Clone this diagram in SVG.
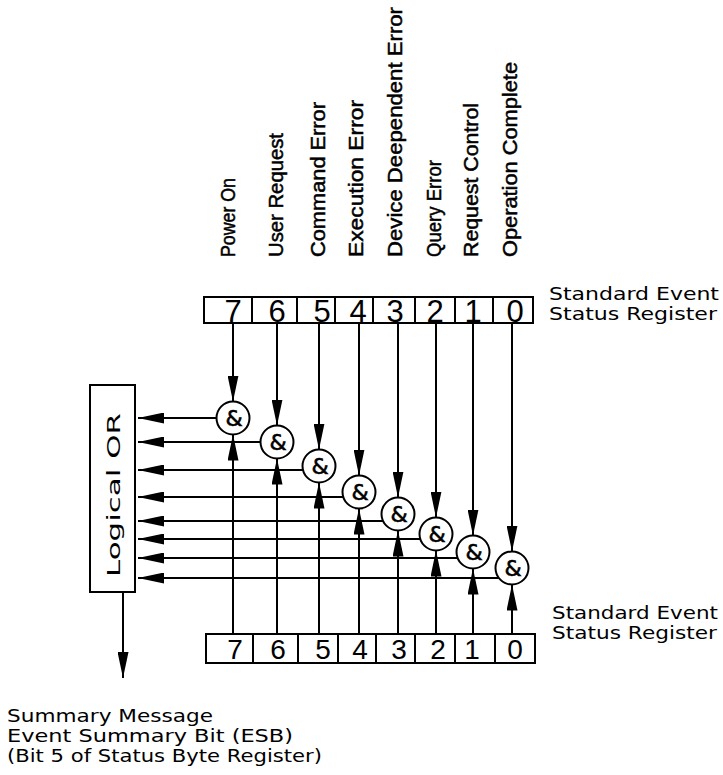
<svg xmlns="http://www.w3.org/2000/svg" width="723" height="775" viewBox="0 0 723 775">
<style>
  .ln{stroke:#000;stroke-width:2;fill:none}
  .bx{stroke:#000;stroke-width:2;fill:#fff}
  .g{stroke:#000;stroke-width:2;fill:#fff}
  .t{font-family:"DejaVu Sans","Liberation Sans",sans-serif;font-size:18px;fill:#000}
  .v{font-family:"Liberation Sans","DejaVu Sans",sans-serif;font-size:20px;fill:#000;stroke:#000;stroke-width:0.5}
  .d{font-family:"Liberation Sans","DejaVu Sans",sans-serif;fill:#000;text-anchor:middle}
  .amp{font-family:"DejaVu Sans","Liberation Sans",sans-serif;font-size:22px;fill:#000;text-anchor:middle;stroke:#000;stroke-width:0.6}
</style>
<defs>
  <marker id="ah" viewBox="0 0 26 11" refX="26" refY="5.5" markerWidth="26" markerHeight="11" markerUnits="userSpaceOnUse" orient="auto">
    <path d="M0,0 L26,5.5 L0,11 z" fill="#000"/>
  </marker>
</defs>

<g id="bit-labels">
  <text class="v" transform="translate(235,257) rotate(-90)" textLength="79" lengthAdjust="spacingAndGlyphs">Power On</text>
  <text class="v" transform="translate(283,257) rotate(-90)" textLength="124" lengthAdjust="spacingAndGlyphs">User Request</text>
  <text class="v" transform="translate(325,257) rotate(-90)" textLength="155" lengthAdjust="spacingAndGlyphs">Command Error</text>
  <text class="v" transform="translate(363,257) rotate(-90)" textLength="157" lengthAdjust="spacingAndGlyphs">Execution Error</text>
  <text class="v" transform="translate(402,257) rotate(-90)" textLength="250" lengthAdjust="spacingAndGlyphs">Device Deependent Error</text>
  <text class="v" transform="translate(441,257) rotate(-90)" textLength="97" lengthAdjust="spacingAndGlyphs">Query Error</text>
  <text class="v" transform="translate(478,257) rotate(-90)" textLength="154" lengthAdjust="spacingAndGlyphs">Request Control</text>
  <text class="v" transform="translate(517,257) rotate(-90)" textLength="195" lengthAdjust="spacingAndGlyphs">Operation Complete</text>
</g>

<g id="top-register">
  <rect class="bx" x="204" y="297" width="329" height="26"/>
  <path class="ln" d="M252,297V323M297,297V323M335,297V323M373,297V323M415,297V323M455,297V323M493,297V323"/>
  <g class="d" font-size="31">
    <text x="233" y="322">7</text><text x="277" y="322">6</text><text x="322" y="322">5</text><text x="358" y="322">4</text>
    <text x="395" y="322">3</text><text x="435" y="322">2</text><text x="473" y="322">1</text><text x="515" y="322">0</text>
  </g>
  <text class="t" font-size="17" x="549" y="300" textLength="170" lengthAdjust="spacingAndGlyphs">Standard Event</text>
  <text class="t" font-size="17" x="549" y="320" textLength="168" lengthAdjust="spacingAndGlyphs">Status Register</text>
</g>

<g id="bottom-register">
  <rect class="bx" x="206" y="634" width="329" height="29"/>
  <path class="ln" d="M253,634V663M298,634V663M338,634V663M376,634V663M415,634V663M455,634V663M495,634V663"/>
  <g class="d" font-size="28">
    <text x="235" y="659">7</text><text x="278" y="659">6</text><text x="323" y="659">5</text><text x="360" y="659">4</text>
    <text x="399" y="659">3</text><text x="438" y="659">2</text><text x="472" y="659">1</text><text x="515" y="659">0</text>
  </g>
  <text class="t" font-size="17" x="552" y="619" textLength="166" lengthAdjust="spacingAndGlyphs">Standard Event</text>
  <text class="t" font-size="17" x="552" y="639" textLength="165" lengthAdjust="spacingAndGlyphs">Status Register</text>
</g>

<g id="connectors">
  <path class="ln" marker-end="url(#ah)" d="M233,323V401.5"/>
  <path class="ln" marker-end="url(#ah)" d="M277,323V425.5"/>
  <path class="ln" marker-end="url(#ah)" d="M319,323V449.5"/>
  <path class="ln" marker-end="url(#ah)" d="M359,323V475.5"/>
  <path class="ln" marker-end="url(#ah)" d="M398,323V497.5"/>
  <path class="ln" marker-end="url(#ah)" d="M436,323V517.5"/>
  <path class="ln" marker-end="url(#ah)" d="M473,323V535.5"/>
  <path class="ln" marker-end="url(#ah)" d="M512,323V551.5"/>
  <path class="ln" marker-end="url(#ah)" d="M233,634V434.5"/>
  <path class="ln" marker-end="url(#ah)" d="M277,634V458.5"/>
  <path class="ln" marker-end="url(#ah)" d="M319,634V482.5"/>
  <path class="ln" marker-end="url(#ah)" d="M359,634V508.5"/>
  <path class="ln" marker-end="url(#ah)" d="M398,634V530.5"/>
  <path class="ln" marker-end="url(#ah)" d="M436,634V550.5"/>
  <path class="ln" marker-end="url(#ah)" d="M473,634V568.5"/>
  <path class="ln" marker-end="url(#ah)" d="M512,634V584.5"/>
  <path class="ln" marker-end="url(#ah)" d="M216.5,418H138"/>
  <path class="ln" marker-end="url(#ah)" d="M260.5,442H138"/>
  <path class="ln" marker-end="url(#ah)" d="M303,470H138"/>
  <path class="ln" marker-end="url(#ah)" d="M343.3,497H138"/>
  <path class="ln" marker-end="url(#ah)" d="M383.1,521H138"/>
  <path class="ln" marker-end="url(#ah)" d="M420.3,539H138"/>
  <path class="ln" marker-end="url(#ah)" d="M457.6,558H138"/>
  <path class="ln" marker-end="url(#ah)" d="M498.9,578H138"/>
  <path class="ln" marker-end="url(#ah)" d="M123,592V678"/>
</g>

<g id="gate7"><circle class="g" cx="233" cy="418" r="16.5"/><text class="amp" x="234" y="426">&amp;</text></g>
<g id="gate6"><circle class="g" cx="277" cy="442" r="16.5"/><text class="amp" x="278" y="450">&amp;</text></g>
<g id="gate5"><circle class="g" cx="319" cy="466" r="16.5"/><text class="amp" x="320" y="474">&amp;</text></g>
<g id="gate4"><circle class="g" cx="359" cy="492" r="16.5"/><text class="amp" x="360" y="500">&amp;</text></g>
<g id="gate3"><circle class="g" cx="398" cy="514" r="16.5"/><text class="amp" x="399" y="522">&amp;</text></g>
<g id="gate2"><circle class="g" cx="436" cy="534" r="16.5"/><text class="amp" x="437" y="542">&amp;</text></g>
<g id="gate1"><circle class="g" cx="473" cy="552" r="16.5"/><text class="amp" x="474" y="560">&amp;</text></g>
<g id="gate0"><circle class="g" cx="512" cy="568" r="16.5"/><text class="amp" x="513" y="576">&amp;</text></g>

<g id="logical-or">
  <rect class="bx" x="90" y="385" width="45" height="207"/>
  <text class="t" font-size="20" transform="translate(120,577) rotate(-90)" textLength="164" lengthAdjust="spacingAndGlyphs">Logical OR</text>
</g>

<g id="summary-label">
  <text class="t" x="7" y="722" textLength="206" lengthAdjust="spacingAndGlyphs">Summary Message</text>
  <text class="t" x="7" y="742" textLength="286" lengthAdjust="spacingAndGlyphs">Event Summary Bit (ESB)</text>
  <text class="t" x="7" y="762" textLength="315" lengthAdjust="spacingAndGlyphs">(Bit 5 of Status Byte Register)</text>
</g>
</svg>
